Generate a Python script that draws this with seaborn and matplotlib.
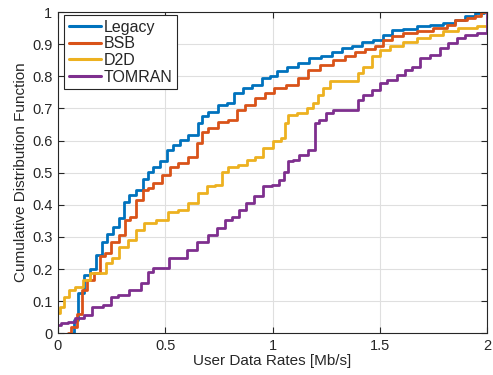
import numpy as np
import pandas as pd
import matplotlib
matplotlib.use("Agg")
import matplotlib.pyplot as plt
import seaborn as sns

series_names = ["Legacy", "BSB", "D2D", "TOMRAN"]

legacy_x = [0.07, 0.082, 0.108, 0.135, 0.163, 0.193, 0.217, 0.24, 0.271, 0.294, 0.317, 0.348,
            0.379, 0.41, 0.429, 0.46, 0.491, 0.522, 0.553, 0.584, 0.631, 0.67, 0.677, 0.724,
            0.771, 0.802, 0.841, 0.88, 0.926, 0.973, 1.004, 1.035, 1.097, 1.144, 1.198, 1.253,
            1.3, 1.346, 1.393, 1.44, 1.5, 1.532, 1.579, 1.641, 1.703, 1.766, 1.828, 1.874,
            1.921, 1.968, 2.0]
legacy_y = [0.0, 0.04, 0.125, 0.18, 0.2, 0.245, 0.285, 0.31, 0.33, 0.36, 0.41, 0.43,
            0.445, 0.48, 0.503, 0.519, 0.535, 0.571, 0.587, 0.602, 0.618, 0.654, 0.675, 0.69,
            0.711, 0.717, 0.748, 0.763, 0.774, 0.794, 0.80, 0.815, 0.83, 0.841, 0.857, 0.862,
            0.877, 0.888, 0.893, 0.908, 0.913, 0.929, 0.945, 0.948, 0.955, 0.958, 0.966, 0.976,
            0.987, 0.997, 1.0]

bsb_x = [0.046, 0.077, 0.1, 0.124, 0.147, 0.186, 0.209, 0.232, 0.263, 0.302, 0.325, 0.348,
         0.379, 0.41, 0.429, 0.46, 0.507, 0.538, 0.584, 0.631, 0.662, 0.677, 0.724, 0.771,
         0.817, 0.848, 0.895, 0.942, 0.988, 1.027, 1.097, 1.144, 1.19, 1.253, 1.315, 1.361,
         1.408, 1.455, 1.5, 1.532, 1.579, 1.641, 1.703, 1.796, 1.828, 1.874, 1.936, 1.952,
         1.99, 2.0]
bsb_y = [0.0, 0.02, 0.06, 0.135, 0.166, 0.187, 0.24, 0.25, 0.285, 0.306, 0.353, 0.363,
         0.415, 0.447, 0.452, 0.467, 0.493, 0.519, 0.53, 0.55, 0.592, 0.628, 0.639, 0.659,
         0.664, 0.696, 0.711, 0.732, 0.748, 0.763, 0.774, 0.794, 0.82, 0.836, 0.851, 0.862,
         0.877, 0.885, 0.893, 0.913, 0.924, 0.934, 0.94, 0.95, 0.96, 0.976, 0.981, 0.987,
         1.0, 1.0]

d2d_x = [0.0, 0.015, 0.039, 0.062, 0.1, 0.132, 0.163, 0.209, 0.24, 0.263, 0.302, 0.348,
         0.379, 0.426, 0.488, 0.534, 0.584, 0.631, 0.677, 0.709, 0.755, 0.771, 0.817, 0.864,
         0.895, 0.942, 0.973, 1.027, 1.05, 1.066, 1.082, 1.144, 1.175, 1.206, 1.214, 1.253,
         1.283, 1.393, 1.408, 1.44, 1.486, 1.517, 1.579, 1.641, 1.703, 1.766, 1.828, 1.905,
         2.0]
d2d_y = [0.062, 0.083, 0.114, 0.135, 0.145, 0.166, 0.187, 0.187, 0.218, 0.234, 0.27, 0.29,
         0.322, 0.343, 0.353, 0.379, 0.384, 0.405, 0.436, 0.457, 0.462, 0.503, 0.519, 0.524,
         0.54, 0.55, 0.576, 0.597, 0.607, 0.654, 0.68, 0.685, 0.70, 0.716, 0.742, 0.763,
         0.784, 0.784, 0.81, 0.83, 0.862, 0.883, 0.893, 0.908, 0.919, 0.929, 0.94, 0.95,
         0.955]

tomran_x = [0.0, 0.031, 0.062, 0.1, 0.139, 0.178, 0.24, 0.255, 0.302, 0.364, 0.41, 0.426,
            0.457, 0.503, 0.534, 0.584, 0.617, 0.677, 0.724, 0.763, 0.794, 0.833, 0.856, 0.895,
            0.934, 0.973, 1.02, 1.043, 1.066, 1.082, 1.105, 1.144, 1.19, 1.206, 1.229, 1.268,
            1.3, 1.393, 1.408, 1.44, 1.486, 1.517, 1.548, 1.61, 1.625, 1.672, 1.703, 1.766,
            1.796, 1.843, 1.874, 1.921, 1.983, 2.0, 2.0]
tomran_y = [0.026, 0.031, 0.036, 0.047, 0.057, 0.083, 0.088, 0.114, 0.119, 0.135, 0.156, 0.192,
            0.203, 0.203, 0.234, 0.234, 0.26, 0.285, 0.306, 0.327, 0.353, 0.363, 0.384, 0.405,
            0.426, 0.457, 0.462, 0.478, 0.503, 0.535, 0.54, 0.555, 0.571, 0.654, 0.664, 0.685,
            0.696, 0.696, 0.727, 0.742, 0.758, 0.779, 0.789, 0.805, 0.82, 0.83, 0.857, 0.867,
            0.888, 0.903, 0.919, 0.929, 0.935, 0.935, 1.0]

x_ticks = [0, 0.5, 1, 1.5, 2]
x_tick_labels = ["0", "0.5", "1", "1.5", "2"]
y_ticks = [0, 0.1, 0.2, 0.3, 0.4, 0.5, 0.6, 0.7, 0.8, 0.9, 1]
y_tick_labels = ["0", "0.1", "0.2", "0.3", "0.4", "0.5", "0.6", "0.7", "0.8", "0.9", "1"]

colors = ["#0072BD", "#D95319", "#EDB120", "#7E2F8E"]

frames = []
for name, xs, ys in zip(series_names,
                        [legacy_x, bsb_x, d2d_x, tomran_x],
                        [legacy_y, bsb_y, d2d_y, tomran_y]):
    frames.append(pd.DataFrame({"rate": xs, "cdf": ys, "scheme": name}))
df = pd.concat(frames, ignore_index=True)

sns.set_style("white")
plt.rcParams["font.family"] = ["Liberation Sans", "DejaVu Sans"]
txt = "#262626"

fig = plt.figure(figsize=(4.93, 3.75), dpi=100)
ax = fig.add_axes([58 / 493, 1 - 333.3 / 375, (487 - 58) / 493, (333.3 - 12) / 375])

sns.lineplot(data=df, x="rate", y="cdf", hue="scheme", hue_order=series_names,
             palette=colors, estimator=None, sort=False, units="scheme",
             drawstyle="steps-mid", linewidth=2.0, ax=ax, legend=True)

ax.set_xlim(0, 2)
ax.set_ylim(0, 1)
ax.set_xticks(x_ticks)
ax.set_xticklabels(x_tick_labels)
ax.set_yticks(y_ticks)
ax.set_yticklabels(y_tick_labels)
ax.grid(True, color="#dfdfdf", linewidth=0.8)
ax.set_axisbelow(True)
for sp in ax.spines.values():
    sp.set_visible(True)
    sp.set_color(txt)
    sp.set_linewidth(0.8)
ax.tick_params(direction="in", length=4, width=0.8, colors=txt, labelsize=10.5,
               top=True, right=True, bottom=True, left=True, pad=4)
ax.set_xlabel("User Data Rates [Mb/s]", fontsize=11, color=txt, labelpad=1)
ax.set_ylabel("Cumulative Distribution Function", fontsize=11, color=txt, labelpad=3)

handles, labels = ax.get_legend_handles_labels()
leg = ax.legend(handles, labels, loc="upper left", bbox_to_anchor=(6 / 429, 1 - 3 / 321),
                borderaxespad=0, fontsize=11.5, frameon=True, fancybox=False,
                edgecolor="#262626", framealpha=1, handlelength=2.0, handletextpad=0.2,
                labelspacing=0.1, borderpad=0.3)
leg.get_frame().set_linewidth(0.8)
for line in leg.get_lines():
    line.set_linewidth(2.2)

fig.savefig("out.png", dpi=100)
